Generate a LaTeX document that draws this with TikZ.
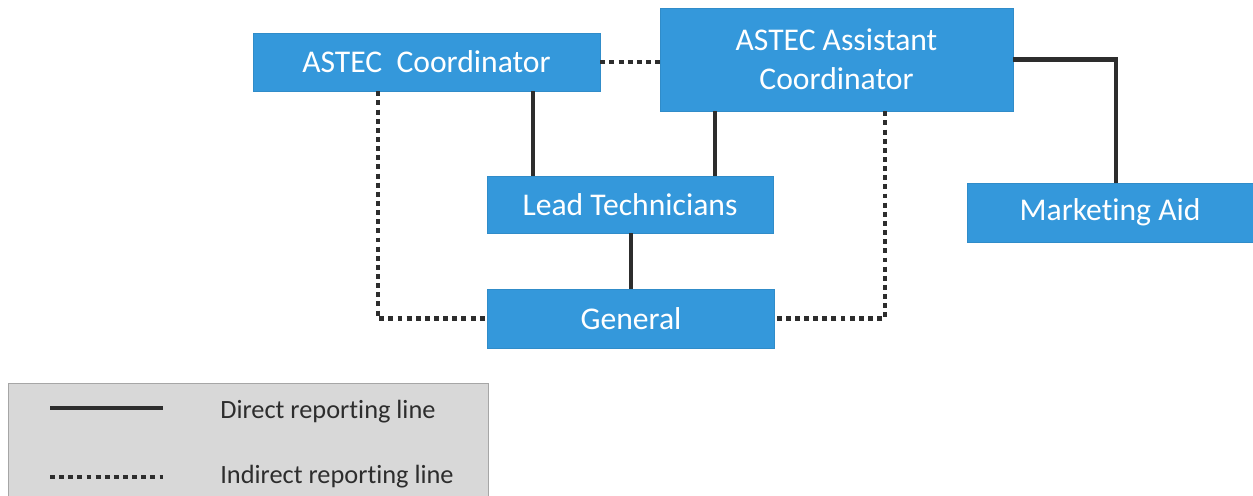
\documentclass[tikz,border=0pt]{standalone}
\usepackage{fontspec}
\setmainfont{Carlito}[Ligatures={NoCommon}]
\usepackage{xcolor}
\usepackage{tikz}
\usetikzlibrary{positioning}
\definecolor{boxColor}{RGB}{52,152,219}
\definecolor{lineColor}{RGB}{45,45,45}
\definecolor{legendColor}{RGB}{216,216,216}
\tikzstyle{role} = [rectangle, inner sep=0pt, align=center, draw=boxColor!92!black, fill=boxColor, text=white, font=\fontsize{18}{22}\selectfont]
\tikzstyle{direct} = [line width=2.5pt, lineColor]
\tikzstyle{indirect} = [line width=2.8pt, lineColor, dash pattern=on 2.8pt off 2.4pt]

\begin{document}
\begin{tikzpicture}[x=0.02cm, y=-0.02cm]
        \useasboundingbox (0,0) rectangle (1253,495);

        \node (coord) [role, minimum width=6.94cm, minimum height=1.16cm] at (426.5,62) {ASTEC\ \ Coordinator};
        \node (assist) [role, minimum width=7.06cm, minimum height=2.06cm] at (836.5,59.5) {ASTEC Assistant \\ Coordinator};
        \node (lead) [role, minimum width=5.72cm, minimum height=1.14cm] at (630,204.5) {Lead Technicians};
        \node (general) [role, minimum width=5.74cm, minimum height=1.18cm] at (631,318.5) {General};
        \node (market) [role, minimum width=5.72cm, minimum height=1.18cm] at (1110,212.5) {Marketing Aid};

        \draw [direct] (coord.south -| 533,0) -- (lead.north -| 533,0);
        \draw [direct] (assist.south -| 715,0) -- (lead.north -| 715,0);
        \draw [direct] (lead.south -| general.north) -- (general.north);
        \draw [direct] (assist.east) -| (market.north -| 1116,0);

        \draw [indirect] (coord.east) -- (coord.east -| assist.west);
        \draw [indirect] (coord.south -| 378,0) |- (general.west);
        \draw [indirect] (assist.south -| 885,0) |- (general.east);

        % legend
        \node (legend) [rectangle, draw=gray!70, fill=legendColor, minimum width=9.6cm, minimum height=2.4cm, anchor=north west] at (8,383) {};
        \coordinate (solidA) at (50,408);
        \coordinate (solidB) at (163,408);
        \coordinate (dotA) at (50,477);
        \coordinate (dotB) at (163,477);
        \draw [direct] (solidA) -- (solidB);
        \draw [indirect] (dotA) -- (dotB);
        \node (solidText) [anchor=west, inner sep=0pt, text=lineColor, font=\fontsize{15}{18}\selectfont] at (220,412) {Direct reporting line};
        \node (dotText) [anchor=west, inner sep=0pt, text=lineColor, font=\fontsize{15}{18}\selectfont] at (220,477) {Indirect reporting line};
    \end{tikzpicture}
\end{document}
